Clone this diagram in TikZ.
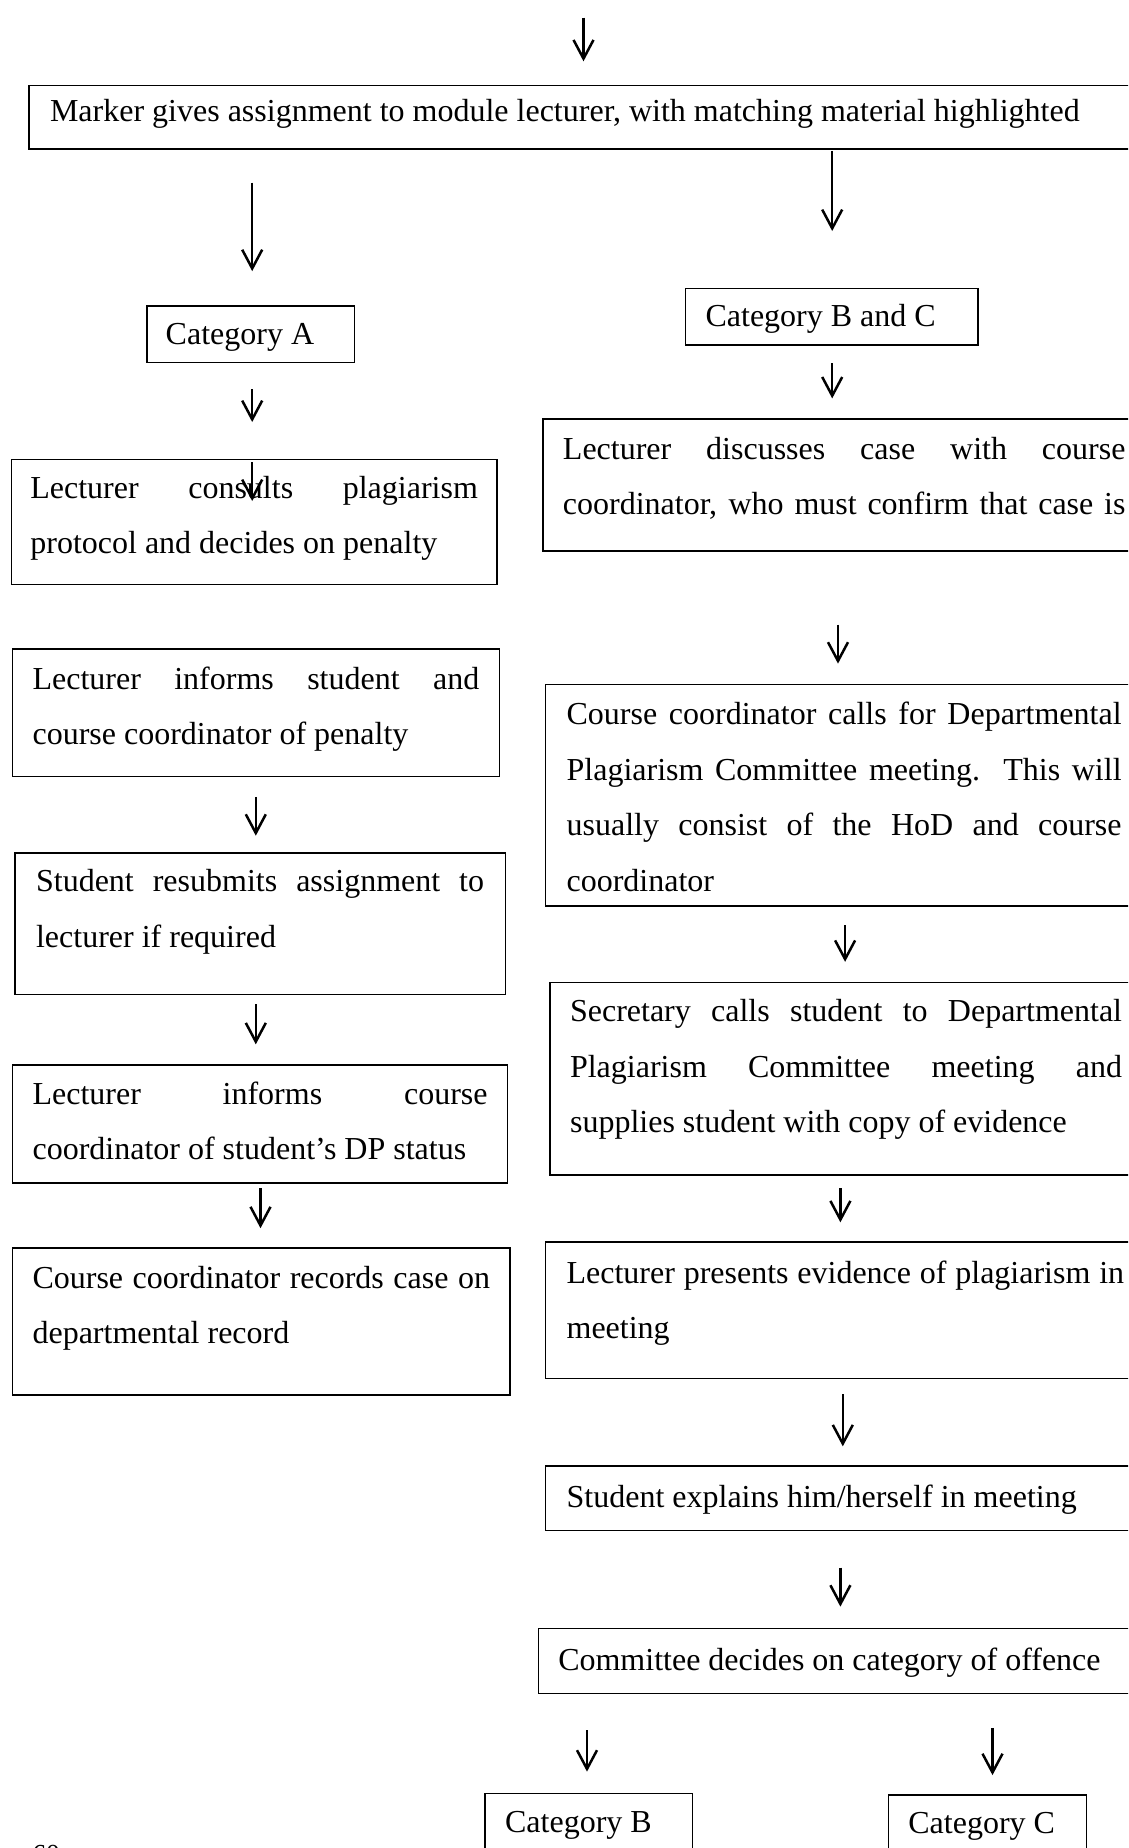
\documentclass[tikz,border=0pt]{standalone}
\usepackage{fontspec}
\setmainfont{Liberation Serif}
\usetikzlibrary{arrows.meta}
\tolerance=9999
\hyphenpenalty=10000

\tikzset{
  stepbox/.style={draw, line width=0.6pt, anchor=north west, inner xsep=8pt, inner ysep=0pt,
    text height=15.6pt, align=justify, font=\fontsize{12.8}{22.2}\selectfont},
  arr/.style={line width=1pt, -{Straight Barb[length=7.5pt,width=8pt,line width=1pt]}}
}

\begin{document}
\begin{tikzpicture}[x=0.4pt, y=-0.4pt]
                \useasboundingbox (0,0) rectangle (1128,1848);
                \clip (0,0) rectangle (1128,1848);

                % first step
                \node[stepbox, text width=450pt, text height=14.4pt, text depth=11pt, inner xsep=8.4pt] (marker) at (28.3,84.9) {Marker gives assignment to module lecturer, with matching material highlighted};

                % category A column
                \node[stepbox, text width=68pt, text height=15.2pt, text depth=7.4pt, inner xsep=7.5pt] (catA) at (146.2,305.3) {Category A};
                \node[stepbox, text width=179pt, text depth=34.4pt, inner xsep=7.6pt] (consult) at (10.6,458.5) {Lecturer consults plagiarism\linebreak protocol and decides on penalty};
                \node[stepbox, text width=178.7pt, text height=16.1pt, text depth=34.8pt] (inform) at (11.8,648.3) {Lecturer informs student and\linebreak course coordinator of penalty};
                \node[stepbox, text width=179.2pt, text depth=41pt, inner xsep=8.5pt] (resubmit) at (14.1,852.2) {Student resubmits assignment to\linebreak lecturer if required};
                \node[stepbox, text width=182pt, text depth=31.5pt] (dpstatus) at (11.8,1064.4) {Lecturer informs course\linebreak coordinator of student’s DP status};
                \node[stepbox, text width=183pt, text height=16.1pt, text depth=42.8pt] (record) at (11.8,1247.1) {Course coordinator records case on\linebreak departmental record};

                % category B and C column
                \node[stepbox, text width=101pt, text height=15.2pt, text depth=7.4pt] (catBC) at (684.8,287.6) {Category B and C};
                \node[stepbox, text width=225pt, text height=16.1pt, text depth=36.7pt] (discuss) at (542.2,418.4) {Lecturer discusses case with course\linebreak coordinator, who must confirm that case is\linebreak};
                \node[stepbox, text width=222pt, text height=16.1pt, text depth=72.5pt, inner xsep=8.5pt] (calls) at (544.6,683.6) {Course coordinator calls for Departmental\linebreak Plagiarism Committee meeting.\ \ This will\linebreak usually consist of the HoD and course\linebreak coordinator};
                \node[stepbox, text width=220.8pt, text depth=61.3pt] (secretary) at (549.3,981.8) {Secretary calls student to Departmental\linebreak Plagiarism Committee meeting and\linebreak supplies student with copy of evidence};
                \node[stepbox, text width=223pt, text height=16.6pt, text depth=38.1pt, inner xsep=8.5pt] (present) at (544.6,1241.2) {Lecturer presents evidence of plagiarism in\linebreak meeting};
                \node[stepbox, text width=223pt, text height=16.6pt, text depth=9.3pt, inner xsep=8.5pt] (explain) at (544.6,1465.1) {Student explains him/herself in meeting};
                \node[stepbox, text width=225pt, text height=16.6pt, text depth=9.3pt] (decide) at (537.5,1627.8) {Committee decides on category of offence};
                \node[stepbox, text width=67pt, text depth=20pt] (catB) at (484.4,1792.8) {Category B};
                \node[stepbox, text width=63.2pt, text depth=20pt] (catC) at (887.6,1794) {Category C};

                \node[anchor=north west, inner sep=0pt, font=\fontsize{11}{13}\selectfont] (pagenum) at (32,1845) {60};

                % arrow ends
                \coordinate (in1) at (583.5,17.7);   \coordinate (in2) at (583.5,61.3);
                \coordinate (la1) at (252.2,182.7);  \coordinate (la2) at (252.2,271.1);
                \coordinate (ra1) at (832.2,150.9);  \coordinate (ra2) at (832.2,231);
                \coordinate (lb1) at (252.2,389);    \coordinate (lb2) at (252.2,422);
                \coordinate (rb1) at (832.2,363);    \coordinate (rb2) at (832.2,398.4);
                \coordinate (lc1) at (252.2,462);    \coordinate (lc2) at (252.2,501);
                \coordinate (rc1) at (838,624.7);    \coordinate (rc2) at (838,663.6);
                \coordinate (ld1) at (255.8,796.8);  \coordinate (ld2) at (255.8,835.7);
                \coordinate (rd1) at (845.1,925.3);  \coordinate (rd2) at (845.1,961.8);
                \coordinate (le1) at (255.8,1004.3); \coordinate (le2) at (255.8,1044.3);
                \coordinate (lf1) at (260.5,1188.1); \coordinate (lf2) at (260.5,1228.2);
                \coordinate (rf1) at (840.4,1188.1); \coordinate (rf2) at (840.4,1222.3);
                \coordinate (rg1) at (842.8,1394.4); \coordinate (rg2) at (842.8,1446.3);
                \coordinate (rh1) at (840.4,1567.7); \coordinate (rh2) at (840.4,1606.6);
                \coordinate (bb1) at (587,1730.3);   \coordinate (bb2) at (587,1771.6);
                \coordinate (cc1) at (992.5,1727.9); \coordinate (cc2) at (992.5,1775.1);

                \draw[arr] (in1) -- (in2);
                \draw[arr] (la1) -- (la2);
                \draw[arr] (ra1) -- (ra2);
                \draw[arr] (lb1) -- (lb2);
                \draw[arr] (rb1) -- (rb2);
                \draw[arr] (lc1) -- (lc2);
                \draw[arr] (rc1) -- (rc2);
                \draw[arr] (ld1) -- (ld2);
                \draw[arr] (rd1) -- (rd2);
                \draw[arr] (le1) -- (le2);
                \draw[arr] (lf1) -- (lf2);
                \draw[arr] (rf1) -- (rf2);
                \draw[arr] (rg1) -- (rg2);
                \draw[arr] (rh1) -- (rh2);
                \draw[arr] (bb1) -- (bb2);
                \draw[arr] (cc1) -- (cc2);
            \end{tikzpicture}
\end{document}
